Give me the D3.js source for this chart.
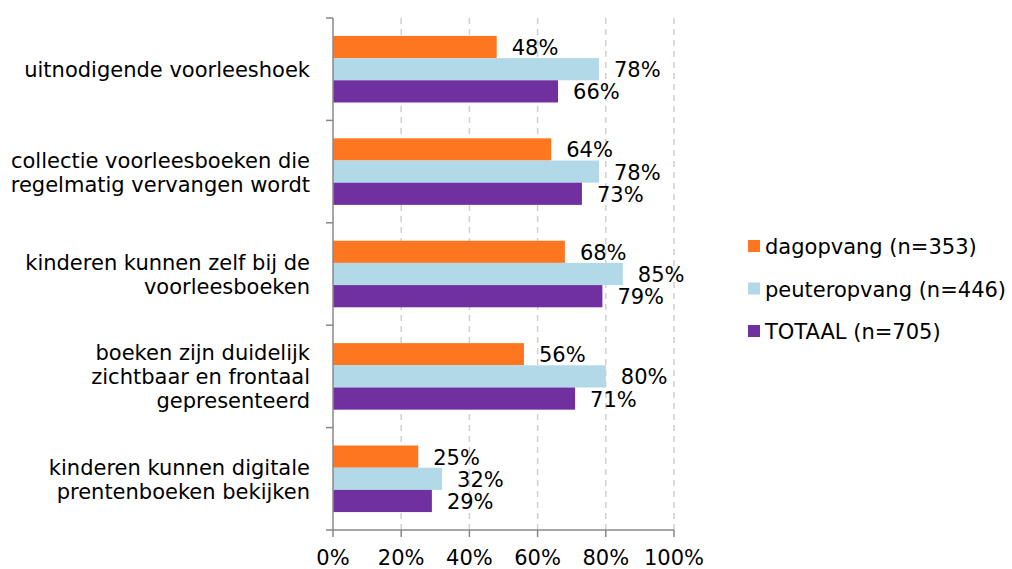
<!DOCTYPE html>
<html lang="nl">
<head>
<meta charset="UTF-8">
<title>Voorleeshoek</title>
<script src="https://cdn.jsdelivr.net/npm/d3@7"></script>
<style>
  body { margin: 0; background: #fff; }
  text { font-family: "DejaVu Sans", Verdana, sans-serif; fill: #000; }
</style>
</head>
<body>
<script>
// data
var categories = [
  ["uitnodigende voorleeshoek"],
  ["collectie voorleesboeken die", "regelmatig vervangen wordt"],
  ["kinderen kunnen zelf bij de", "voorleesboeken"],
  ["boeken zijn duidelijk", "zichtbaar en frontaal", "gepresenteerd"],
  ["kinderen kunnen digitale", "prentenboeken bekijken"]
];
var seriesNames = ["dagopvang (n=353)", "peuteropvang (n=446)", "TOTAAL (n=705)"];
var dagopvang = [48, 64, 68, 56, 25];
var peuteropvang = [78, 78, 85, 80, 32];
var totaal = [66, 73, 79, 71, 29];
var ticks = [0, 20, 40, 60, 80, 100];
var colors = ["#FF7621", "#B2D9E7", "#7030A0"];

var width = 1012, height = 569;
var pLeft = 333, pRight = 674, pTop = 18, pBottom = 530;
var fs = 21;

var svg = d3.select("body").append("svg").attr("width", width).attr("height", height);

var x = d3.scaleLinear().domain([0, 100]).range([pLeft, pRight]);
var y = d3.scaleBand().domain(d3.range(categories.length)).range([pTop, pBottom]).paddingInner(0.35).paddingOuter(0.175);
var ySub = d3.scaleBand().domain([0, 1, 2]).range([0, y.bandwidth()]);

// gridlines
svg.selectAll(".grid").data(ticks.slice(1)).enter().append("line")
  .attr("x1", d => x(d)).attr("x2", d => x(d))
  .attr("y1", pTop).attr("y2", pBottom)
  .attr("stroke", "#d0d0d0").attr("stroke-width", 1.5).attr("stroke-dasharray", "6,5");

// bars
var series = [dagopvang, peuteropvang, totaal];
var groups = svg.selectAll(".grp").data(categories).enter().append("g")
  .attr("transform", (d, i) => "translate(0," + y(i) + ")");

groups.each(function(c, i) {
  var g = d3.select(this);
  series.forEach(function(s, j) {
    g.append("rect")
      .attr("x", x(0)).attr("y", ySub(j))
      .attr("width", x(s[i]) - x(0)).attr("height", ySub.bandwidth())
      .attr("fill", colors[j]);
    g.append("text")
      .attr("x", x(s[i]) + 15).attr("y", ySub(j) + ySub.bandwidth() / 2 + 8)
      .attr("font-size", fs).text(s[i] + "%");
  });
});

// y axis
var band = (pBottom - pTop) / categories.length;
svg.append("line").attr("x1", pLeft).attr("x2", pLeft).attr("y1", pTop).attr("y2", pBottom)
  .attr("stroke", "#888").attr("stroke-width", 1.5);
svg.selectAll(".ytick").data(d3.range(categories.length + 1)).enter().append("line")
  .attr("x1", pLeft - 7).attr("x2", pLeft)
  .attr("y1", d => pTop + d * band).attr("y2", d => pTop + d * band)
  .attr("stroke", "#888").attr("stroke-width", 1.5);

// category labels
svg.selectAll(".cat").data(categories).enter().append("text")
  .attr("text-anchor", "end").attr("font-size", fs)
  .each(function(lines, i) {
    var cy = y(i) + y.bandwidth() / 2;
    var lh = 24;
    var t = d3.select(this);
    lines.forEach(function(l, k) {
      t.append("tspan").attr("x", 310)
        .attr("y", cy + 8 + (k - (lines.length - 1) / 2) * lh)
        .text(l);
    });
  });

// x axis
svg.append("line").attr("x1", pLeft).attr("x2", pRight).attr("y1", pBottom).attr("y2", pBottom)
  .attr("stroke", "#888").attr("stroke-width", 1.5);
svg.selectAll(".xtick").data(ticks).enter().append("line")
  .attr("x1", d => x(d)).attr("x2", d => x(d))
  .attr("y1", pBottom).attr("y2", pBottom + 7)
  .attr("stroke", "#888").attr("stroke-width", 1.5);
svg.selectAll(".xlab").data(ticks).enter().append("text")
  .attr("x", d => x(d)).attr("y", 565).attr("text-anchor", "middle")
  .attr("font-size", fs).text(d => d + "%");

// legend
var leg = svg.selectAll(".leg").data(seriesNames).enter().append("g")
  .attr("transform", (d, i) => "translate(748," + (246 + i * 42.5) + ")");
leg.append("rect").attr("x", 0).attr("y", -6).attr("width", 12).attr("height", 12)
  .attr("fill", (d, i) => colors[i]);
leg.append("text").attr("x", 17).attr("y", 8).attr("font-size", fs).text(d => d);
</script>
</body>
</html>
